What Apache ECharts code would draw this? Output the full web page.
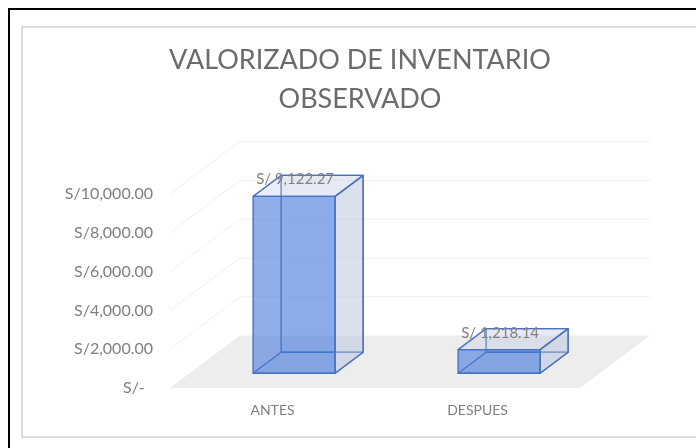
<!DOCTYPE html>
<html><head><meta charset="utf-8">
<style>html,body{margin:0;padding:0;background:#fff}#c{position:absolute;left:0;top:0;width:696px;height:448px}</style>
<script src="https://cdn.jsdelivr.net/npm/echarts@6/dist/echarts.min.js"></script>
</head><body><div id="c"></div>
<script>
const titleLines = ['VALORIZADO DE INVENTARIO', 'OBSERVADO'];
const categories = ['ANTES', 'DESPUES'];
const values = [9122.27, 1218.14];
const valueLabels = ['S/ 9,122.27', 'S/ 1,218.14'];
const tickValues = [0, 2000, 4000, 6000, 8000, 10000];
const tickLabels = ['S/-  ', 'S/2,000.00', 'S/4,000.00', 'S/6,000.00', 'S/8,000.00', 'S/10,000.00'];

const DX = 70, DY = -52.5;          // depth vector of the 3D box
const D0 = 0.28, D1 = 0.68;         // bar depth span
const BAR_SHIFT = 2;
const FONT = 'Lato';
const chart = echarts.init(document.getElementById('c'), null, {renderer: 'canvas'});

function wallItem(params, api) {
  const v = api.value(0);
  const c = params.coordSys;
  const y = api.coord([0, v])[1];
  const x0 = c.x, x1 = c.x + c.width;
  if (v === 0) {
    return {type: 'polygon', shape: {points: [[x0, y], [x1, y], [x1 + DX, y + DY], [x0 + DX, y + DY]]},
      style: {fill: '#ededed'}, silent: true};
  }
  return {type: 'polyline', shape: {points: [[x0, y], [x0 + DX, y + DY], [x1 + DX, y + DY]]},
    style: {fill: 'none', stroke: '#f0f0f0', lineWidth: 1}, silent: true};
}

function barItem(params, api) {
  const i = api.value(0), v = api.value(1);
  const base = api.coord([i, 0]), top = api.coord([i, v]);
  const w = api.size([1, 0])[0] * 0.4;
  const l = base[0] - w / 2 + BAR_SHIFT, r = base[0] + w / 2 + BAR_SHIFT;
  const fx = DX * D0, fy = DY * D0, bx = DX * D1, by = DY * D1;
  const P = (x, y, k) => [x + (k ? bx : fx), y + (k ? by : fy)];
  const yb = base[1], yt = top[1];
  const poly = (pts, fill) => ({type: 'polygon', shape: {points: pts}, style: {fill: fill, stroke: '#4a72c0', lineWidth: 1.4, lineJoin: 'round'}});
  const ft = P(l, yt, 0);
  return {type: 'group', children: [
    poly([P(l, yb, 1), P(r, yb, 1), P(r, yt, 1), P(l, yt, 1)], 'rgba(190,200,225,0.10)'),
    poly([P(l, yb, 0), P(r, yb, 0), P(r, yb, 1), P(l, yb, 1)], 'rgba(68,114,196,0.05)'),
    poly([P(r, yb, 0), P(r, yb, 1), P(r, yt, 1), P(r, yt, 0)], 'rgba(190,200,225,0.50)'),
    poly([P(l, yt, 0), P(r, yt, 0), P(r, yt, 1), P(l, yt, 1)], 'rgba(190,200,225,0.30)'),
    poly([P(l, yb, 0), P(r, yb, 0), P(r, yt, 0), P(l, yt, 0)], 'rgba(68,120,220,0.60)'),
    {type: 'text', style: {text: valueLabels[i], x: ft[0] + 42, y: ft[1] - 17, align: 'center', verticalAlign: 'middle',
      font: '15px ' + FONT, fill: '#7f7f7f'}}
  ]};
}

chart.setOption({
  animation: false,
  backgroundColor: '#fff',
  title: {
    text: titleLines.join('\n'), left: 355, top: 36, textAlign: 'center',
    textStyle: {fontFamily: FONT, fontSize: 27, fontWeight: 'normal', color: '#6b6b6b', lineHeight: 39}
  },
  graphic: [
    {type: 'rect', shape: {x: 9, y: 9, width: 800, height: 500}, style: {fill: 'none', stroke: '#000', lineWidth: 2}, silent: true},
    {type: 'rect', shape: {x: 22, y: 27, width: 800, height: 410}, style: {fill: 'none', stroke: '#dcdcdc', lineWidth: 2}, silent: true}
  ],
  grid: {left: 170, top: 194, width: 410, height: 194},
  xAxis: {type: 'category', data: categories, axisLine: {show: false}, axisTick: {show: false},
    axisLabel: {fontFamily: FONT, fontSize: 14, color: '#7f7f7f', margin: 15}},
  yAxis: {type: 'value', min: 0, max: 10000, interval: 2000, splitLine: {show: false}, axisLine: {show: false}, axisTick: {show: false},
    axisLabel: {fontFamily: FONT, fontSize: 16, color: '#7f7f7f', margin: 17, padding: [5, 0, 0, 0],
      formatter: v => tickLabels[tickValues.indexOf(v)]}},
  series: [
    {type: 'custom', coordinateSystem: 'cartesian2d', renderItem: wallItem, data: tickValues.map(v => [v]), encode: {y: 0}, z: 1, clip: false},
    {type: 'custom', coordinateSystem: 'cartesian2d', renderItem: barItem, data: values.map((v, i) => [i, v]), encode: {x: 0, y: 1}, z: 2, clip: false}
  ]
});
</script></body></html>
